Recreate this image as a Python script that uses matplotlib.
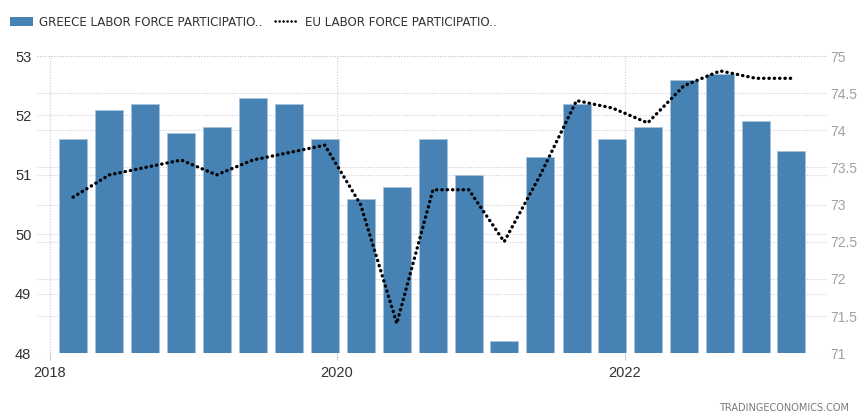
import matplotlib
matplotlib.use("Agg")
from matplotlib import pyplot as plt
import matplotlib.dates as mdates
from matplotlib.patches import Patch
from matplotlib.lines import Line2D
import pandas as pd

# quarterly observations, 2018 Q1 .. 2023 Q1
dates = pd.date_range("2018-03-01", periods=21, freq="3MS")
greece = [51.6, 52.1, 52.2, 51.7, 51.8, 52.3, 52.2, 51.6, 50.6, 50.8, 51.6,
          51.0, 48.2, 51.3, 52.2, 51.6, 51.8, 52.6, 52.7, 51.9, 51.4]
eu = [73.1, 73.4, 73.5, 73.6, 73.4, 73.6, 73.7, 73.8, 73.0, 71.4, 73.2,
      73.2, 72.5, 73.4, 74.4, 74.3, 74.1, 74.6, 74.8, 74.7, 74.7]
left_ticks = [48, 49, 50, 51, 52, 53]
right_ticks = [71, 71.5, 72, 72.5, 73, 73.5, 74, 74.5, 75]
right_labels = ["71", "71.5", "72", "72.5", "73", "73.5", "74", "74.5", "75"]

bar_color = "#4682B4"
grid_kw = dict(color="#cccccc", linestyle=(0, (1, 1.5)), linewidth=0.8)
dot_style = (0, (0.1, 1.5))

fig = plt.figure(figsize=(8.58, 4.15), dpi=100)
rect = [0.043, 0.149, 0.921, 0.716]

# right axis sits behind the bars: ticks + its gridlines
ax_r = fig.add_axes(rect)
ax_r.yaxis.tick_right()
ax_r.set_ylim(71, 75)
ax_r.set_yticks(right_ticks)
ax_r.set_yticklabels(right_labels)
ax_r.tick_params(axis="y", length=0, pad=2, labelsize=10, labelcolor="#a0a0a0")
ax_r.tick_params(axis="x", bottom=False, labelbottom=False)
ax_r.grid(axis="y", **grid_kw)
for s in ax_r.spines.values():
    s.set_visible(False)

# left axis with the bars
ax = fig.add_axes(rect, sharex=ax_r)
ax.patch.set_visible(False)
ax.bar(dates, greece, width=71, color=bar_color, edgecolor="#a9c4dc",
       linewidth=0.6, zorder=2)
ax.set_ylim(48, 53)
ax.set_yticks(left_ticks)
ax.set_axisbelow(True)
ax.grid(axis="y", **grid_kw)
ax.grid(axis="x", **grid_kw)
ax.tick_params(axis="y", length=0, pad=4, labelsize=10.5, labelcolor="#333333")
ax.tick_params(axis="x", length=5, color="#cccccc", pad=4, labelsize=10.5,
               labelcolor="#333333")
ax.xaxis.set_major_locator(mdates.YearLocator(2))
ax.xaxis.set_major_formatter(mdates.DateFormatter("%Y"))
ax.set_xlim(pd.Timestamp("2017-11-29"), pd.Timestamp("2023-05-31"))
for s in ax.spines.values():
    s.set_visible(False)

# top axis with the EU line
ax_l = fig.add_axes(rect, sharex=ax_r)
ax_l.patch.set_visible(False)
ax_l.plot(dates, eu, color="black", linewidth=2.4, linestyle=dot_style,
          dash_capstyle="round")
ax_l.set_ylim(71, 75)
ax_l.axis("off")

for a in (ax, ax_r):
    for lab in a.get_yticklabels() + a.get_xticklabels():
        lab.set_fontfamily("Liberation Sans")

handles = [Patch(facecolor=bar_color, edgecolor="none"),
           Line2D([], [], color="black", linewidth=1.8, linestyle=dot_style,
                  dash_capstyle="round")]
labels = ["GREECE LABOR FORCE PARTICIPATIO..", "EU LABOR FORCE PARTICIPATIO.."]
fig.legend(handles, labels, loc="upper left", bbox_to_anchor=(0.0, 0.985), ncol=2,
           frameon=False, fontsize=8.6, labelcolor="#333333", handlelength=2.0,
           handleheight=0.8, handletextpad=0.5, columnspacing=1.0,
           borderaxespad=0.4)

fig.text(0.99, 0.004, "TRADINGECONOMICS.COM", ha="right", va="bottom",
         fontsize=7, color="#7a7a7a")

fig.savefig("out.png", dpi=100)
